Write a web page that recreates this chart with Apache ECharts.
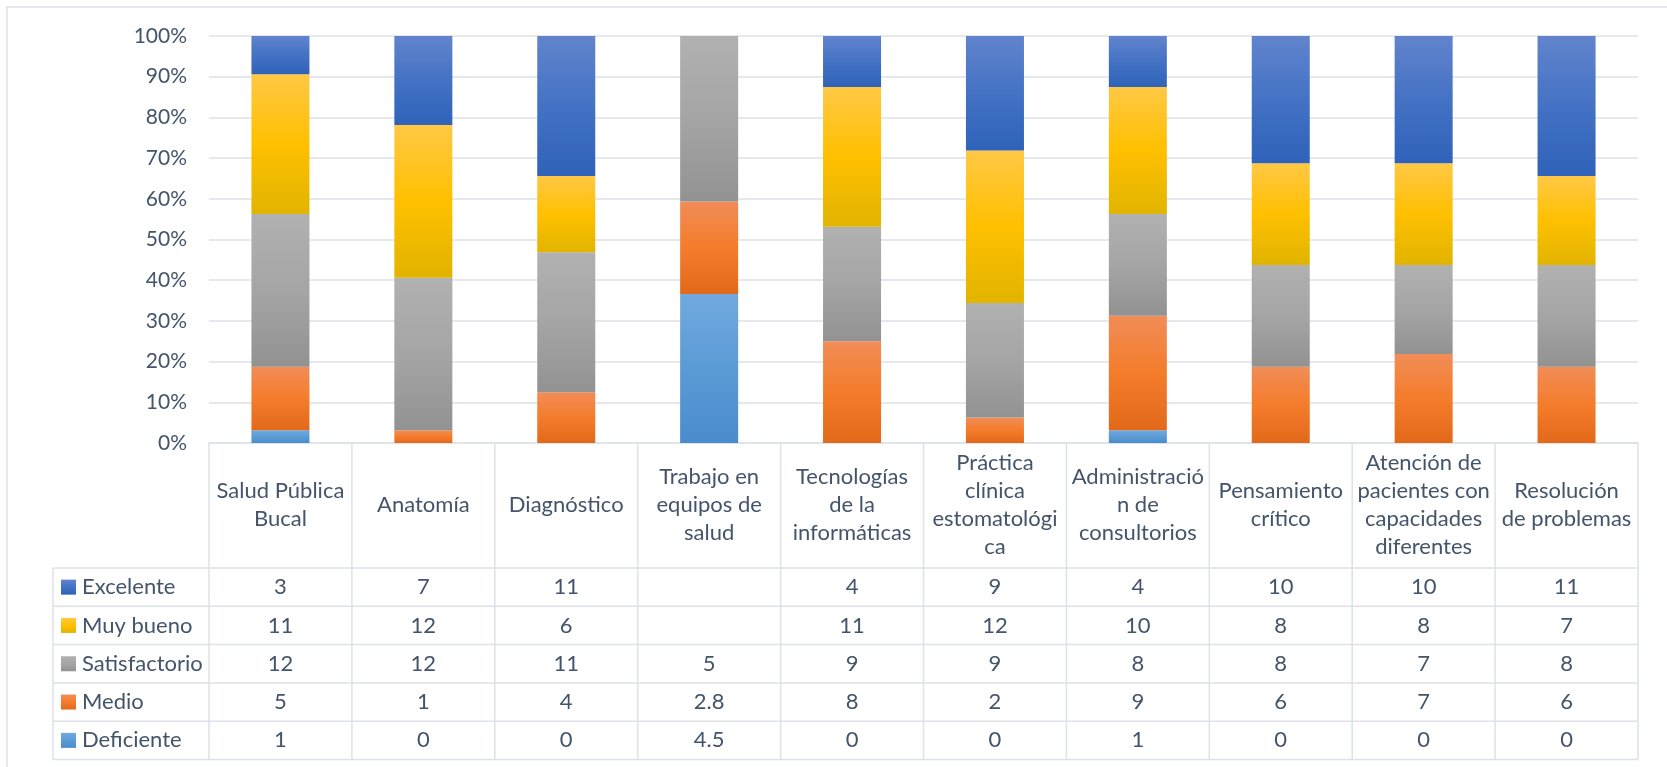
<!DOCTYPE html>
<html>
<head>
<meta charset="utf-8">
<script src="https://cdn.jsdelivr.net/npm/echarts@6/dist/echarts.min.js"></script>
<style>
html,body{margin:0;padding:0;background:#fff;}
#chart{width:1667px;height:767px;}
</style>
</head>
<body>
<div id="chart"></div>
<script>
// ---- data ----
const categories = ['Salud Pública\nBucal', 'Anatomía', 'Diagnóstico', 'Trabajo en\nequipos de\nsalud',
  'Tecnologías\nde la\ninformáticas', 'Práctica\nclínica\nestomatológi\nca', 'Administració\nn de\nconsultorios',
  'Pensamiento\ncrítico', 'Atención de\npacientes con\ncapacidades\ndiferentes', 'Resolución\nde problemas'];
const seriesNames = ['Excelente', 'Muy bueno', 'Satisfactorio', 'Medio', 'Deficiente'];
const excelente     = [3, 7, 11, null, 4, 9, 4, 10, 10, 11];
const muyBueno      = [11, 12, 6, null, 11, 12, 10, 8, 8, 7];
const satisfactorio = [12, 12, 11, 5, 9, 9, 8, 8, 7, 8];
const medio         = [5, 1, 4, 2.8, 8, 2, 9, 6, 7, 6];
const deficiente    = [1, 0, 0, 4.5, 0, 0, 1, 0, 0, 0];
const yTicks = [0, 10, 20, 30, 40, 50, 60, 70, 80, 90, 100];

// ---- styles ----
const FONT = 'Lato';
const TXT = '#44546A';
const LINE = '#DDE2E8';
const TFS = 22;
function grad(c0, c1, c2) {
  return new echarts.graphic.LinearGradient(0, 0, 0, 1, [
    {offset: 0, color: c0}, {offset: 0.5, color: c1}, {offset: 1, color: c2}]);
}
const colors = {
  'Excelente': ['#6184CC', '#4472C4', '#2F62B9'],
  'Muy bueno': ['#FFC845', '#FFC000', '#E1B400'],
  'Satisfactorio': ['#B1B1B1', '#A5A5A5', '#929292'],
  'Medio': ['#F18D58', '#F47C2B', '#E3691A'],
  'Deficiente': ['#71A9DF', '#5B9BD5', '#4A8BCD']
};

const rows = [excelente, muyBueno, satisfactorio, medio, deficiente];
const totals = categories.map((_, i) => rows.reduce((s, r) => s + (r[i] || 0), 0));
const pct = arr => arr.map((v, i) => v == null ? null : v / totals[i] * 100);

// stack order bottom -> top
const stackOrder = [['Deficiente', deficiente], ['Medio', medio], ['Satisfactorio', satisfactorio],
  ['Muy bueno', muyBueno], ['Excelente', excelente]];

// layout
const W = 1667, H = 767;
const gLeft = 209, gRight = 1638, gTop = 36, gBottom = 443;
const colW = (gRight - gLeft) / categories.length;
const headerBottom = 568, rowH = 38.3, legLeft = 53;

const graphics = [];
graphics.push({type: 'rect', shape: {x: 7, y: 7, width: W + 20, height: H + 20},
  style: {fill: 'none', stroke: LINE, lineWidth: 1.5}, silent: true});
// verticals
for (let c = 0; c <= categories.length; c++) {
  const x = gLeft + c * colW;
  graphics.push({type: 'line', shape: {x1: x, y1: gBottom, x2: x, y2: headerBottom + rowH * 5},
    style: {stroke: LINE, lineWidth: 1.5}, silent: true});
}
graphics.push({type: 'line', shape: {x1: legLeft, y1: headerBottom, x2: legLeft, y2: headerBottom + rowH * 5},
  style: {stroke: LINE, lineWidth: 1.5}, silent: true});
for (let r = 0; r <= 5; r++) {
  const y = headerBottom + r * rowH;
  graphics.push({type: 'line', shape: {x1: legLeft, y1: y, x2: gRight, y2: y},
    style: {stroke: LINE, lineWidth: 1.5}, silent: true});
}
seriesNames.forEach((name, r) => {
  const cy = headerBottom + rowH * (r + 0.5);
  const c = colors[name];
  graphics.push({type: 'rect', shape: {x: 61, y: cy - 7.5, width: 15, height: 15},
    style: {fill: grad(c[0], c[1], c[2])}, silent: true});
  graphics.push({type: 'text', x: 82, y: cy, style: {text: name, font: TFS + 'px ' + FONT, fill: TXT,
    verticalAlign: 'middle', align: 'left'}, silent: true});
  rows[r].forEach((v, i) => {
    if (v == null) return;
    graphics.push({type: 'text', x: gLeft + colW * (i + 0.5), y: cy,
      style: {text: String(v), font: TFS + 'px ' + FONT, fill: TXT, align: 'center', verticalAlign: 'middle'}, silent: true});
  });
});

const chart = echarts.init(document.getElementById('chart'), null, {renderer: 'canvas'});
chart.setOption({
  animation: false,
  backgroundColor: '#fff',
  grid: {left: gLeft, right: W - gRight, top: gTop, bottom: H - gBottom, containLabel: false},
  xAxis: {
    type: 'category', data: categories,
    axisLine: {show: true, lineStyle: {color: LINE, width: 1.5}},
    axisTick: {show: false},
    axisLabel: {interval: 0, margin: 62, verticalAlign: 'middle', color: TXT, fontFamily: FONT,
      fontSize: TFS, lineHeight: 28, align: 'center'}
  },
  yAxis: {
    type: 'value', min: yTicks[0], max: yTicks[yTicks.length - 1], interval: 10,
    axisLine: {show: false}, axisTick: {show: false},
    axisLabel: {formatter: '{value}%', color: TXT, fontFamily: FONT, fontSize: 21, margin: 22},
    splitLine: {lineStyle: {color: LINE, width: 1.5}}
  },
  series: stackOrder.map(([name, arr]) => ({
    name, type: 'bar', stack: 'total', data: pct(arr),
    barCategoryGap: '59.4%',
    itemStyle: {color: grad(colors[name][0], colors[name][1], colors[name][2])}
  })),
  graphic: graphics
});
</script>
</body>
</html>
